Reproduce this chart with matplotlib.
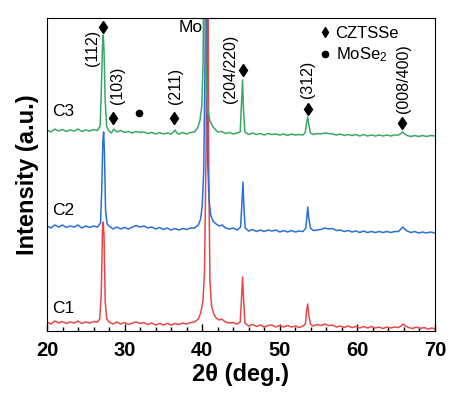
import matplotlib
matplotlib.use("Agg")
import matplotlib.pyplot as plt
from matplotlib.lines import Line2D
from matplotlib.ticker import MultipleLocator

plt.rcParams['font.family'] = ['Liberation Sans', 'DejaVu Sans']
plt.rcParams['mathtext.fontset'] = 'custom'
plt.rcParams['mathtext.rm'] = 'Liberation Sans'
plt.rcParams['mathtext.it'] = 'Liberation Sans:italic'

# 2theta / intensity (offset, a.u.)
c1_x = [20, 20.5, 21, 21.5, 22, 22.5, 23, 23.5, 24, 24.5, 25, 25.5, 26, 26.5, 26.8, 27.0, 27.15, 27.25, 27.35, 27.5, 27.7,
        28, 28.5, 29, 29.5, 30, 30.5, 31, 31.5, 32, 32.5, 33, 33.5, 34, 34.5, 35, 35.5, 36, 36.5, 37, 37.5, 38, 38.5,
        39, 39.5, 39.8, 40.1, 40.3, 40.5, 40.62, 40.72, 40.85, 41.0, 41.2, 41.5, 41.8, 42.2, 42.5, 43, 43.5, 44, 44.5, 44.9,
        45.05, 45.2, 45.35, 45.5, 46, 46.5, 47, 47.5, 48, 48.5, 49, 49.5, 50, 50.5, 51, 51.5, 52, 52.5, 53,
        53.3, 53.45, 53.6, 53.75, 53.95, 54.3, 54.8, 55.3, 55.8, 56.3, 56.8, 57.3, 57.8, 58.3, 58.8, 59.3, 59.8,
        60.3, 60.8, 61.3, 61.8, 62.3, 62.8, 63.3, 63.8, 64.3, 64.8, 65.3, 65.6, 65.9, 66.2, 66.6, 67.1, 67.6,
        68.1, 68.6, 69.1, 69.6, 70]
c1_y = [9, 7, 10, 8, 9.5, 7.5, 9, 8, 10, 7.5, 9, 8, 9.5, 9, 12, 40, 100, 109, 95, 30, 12,
        9, 7, 9, 7, 8.5, 6.5, 8, 9, 7.5, 8.5, 6.5, 8, 6, 7.5, 6, 7.5, 6, 7.5, 6.5, 8, 7, 8.5,
        9, 12, 18, 30, 60, 180, 420, 420, 160, 50, 25, 17, 13, 11, 12, 9, 8, 8.5, 7, 9,
        30, 54, 30, 8, 5, 6.5, 4.5, 6, 4, 5.5, 6, 4, 5.5, 4, 5.5, 4, 5, 3.5, 5,
        7, 20, 27, 15, 7, 5, 6.5, 5.5, 7, 5.5, 6, 4, 5, 3.5, 5, 3.5, 4.5,
        3, 4.5, 3, 4.5, 3, 4, 2.5, 4, 3, 4, 3.5, 5, 7, 5, 3.5, 2.5, 4,
        2.5, 3.5, 2, 3, 2]

c2_x = [20, 20.5, 21, 21.5, 22, 22.5, 23, 23.5, 24, 24.5, 25, 25.5, 26, 26.5, 26.9, 27.05, 27.2, 27.3, 27.4, 27.55, 27.75,
        28, 28.5, 29, 29.5, 30, 30.5, 31, 31.5, 32, 32.5, 33, 33.5, 34, 34.5, 35, 35.5, 36, 36.5, 37, 37.5, 38, 38.5,
        39, 39.5, 39.8, 40.0, 40.2, 40.38, 40.47, 40.56, 40.7, 40.9, 41.1, 41.4, 41.8, 42.2, 42.6, 43, 43.5, 44, 44.5, 44.95,
        45.1, 45.25, 45.4, 45.55, 46, 46.5, 47, 47.5, 48, 48.5, 49, 49.5, 50, 50.5, 51, 51.5, 52, 52.5, 53,
        53.35, 53.5, 53.6, 53.75, 53.95, 54.3, 54.8, 55.3, 55.8, 56.3, 56.8, 57.3, 57.8, 58.3, 58.8, 59.3, 59.8,
        60.3, 60.8, 61.3, 61.8, 62.3, 62.8, 63.3, 63.8, 64.3, 64.8, 65.3, 65.6, 65.85, 66.1, 66.4, 66.9, 67.4,
        67.9, 68.4, 68.9, 69.4, 70]
c2_y = [105, 103, 106, 104, 106, 103.5, 105, 104, 106, 103, 105, 103.5, 105, 104, 108, 140, 190, 199, 180, 120, 107,
        105, 102, 104, 102, 103.5, 102, 104, 105.5, 104, 105, 103, 104, 102, 103.5, 101.5, 103, 101, 102.5, 101, 102.5, 101.5, 103,
        103, 106, 112, 125, 160, 280, 420, 420, 170, 130, 116, 110, 107, 105, 106, 103, 102, 103, 101, 104,
        125, 149, 120, 103, 100, 101.5, 99.5, 101, 99.5, 101, 100, 101, 99, 100.5, 99, 100.5, 99, 100, 99.5,
        103, 115, 124, 112, 103, 100.5, 101, 101.5, 103, 102, 102.5, 100.5, 101, 99.5, 100.5, 99, 100,
        98.5, 100, 98.5, 99.5, 98.5, 99.5, 98.5, 99.5, 98.5, 99.5, 99.5, 102, 104, 102, 100, 98.5, 99.5,
        98, 99, 98, 99, 98]

c3_x = [20, 20.5, 21, 21.5, 22, 22.5, 23, 23.5, 24, 24.5, 25, 25.5, 26, 26.5, 26.85, 27.0, 27.15, 27.25, 27.35, 27.5, 27.7,
        28, 28.3, 28.6, 29, 29.5, 30, 30.5, 31, 31.5, 32, 32.5, 33, 33.5, 34, 34.5, 35, 35.5, 36, 36.3, 36.5, 36.8,
        37, 37.5, 38, 38.5, 39, 39.4, 39.7, 39.95, 40.12, 40.24, 40.33, 40.45, 40.7, 41.0, 41.4, 42, 42.5, 43, 43.5, 44, 44.5,
        44.9, 45.05, 45.2, 45.33, 45.5, 46, 46.5, 47, 47.5, 48, 48.5, 49, 49.5, 50, 50.5, 51, 51.5, 52, 52.5, 53,
        53.3, 53.45, 53.6, 53.75, 53.95, 54.3, 54.8, 55.3, 55.8, 56.3, 56.8, 57.3, 57.8, 58.3, 58.8, 59.3, 59.8,
        60.3, 60.8, 61.3, 61.8, 62.3, 62.8, 63.3, 63.8, 64.3, 64.8, 65.3, 65.6, 65.85, 66.1, 66.4, 66.9, 67.4,
        67.9, 68.4, 68.9, 69.4, 70]
c3_y = [201, 199, 202, 200, 201.5, 199.5, 201, 200, 202, 199.5, 201, 200, 201.5, 200.5, 205, 240, 285, 296, 280, 230, 204,
        200, 198, 202, 199, 200.5, 198.5, 199.5, 198, 199.5, 198.5, 199, 197.5, 198.5, 197, 198.5, 197, 198, 197, 199, 201, 197.5,
        197, 198.5, 197, 198.5, 199, 203, 210, 225, 270, 420, 420, 270, 222, 210, 204, 199, 199.5, 197.5, 198.5, 197, 198,
        199, 225, 251, 220, 199, 196.5, 198, 196.5, 197.5, 196, 197.5, 196.5, 197, 196, 197, 195.5, 197, 196, 196.5, 196,
        199, 208, 214, 206, 198, 196.5, 197.5, 197, 198, 197.5, 197, 196, 197, 195.5, 196.5, 195.5, 196.5,
        195, 196.5, 195, 196, 195, 196, 195, 196, 195, 196, 196, 197.5, 199, 197, 195.5, 194.5, 195.5,
        194.5, 195.5, 194.5, 195.5, 195]

# reflection markers
czts_x = [27.2, 28.55, 36.4, 45.3, 53.6, 65.8]
czts_y = [304, 213, 213, 261, 222, 208]
mose2_x = [31.9]
mose2_y = [218]

hkl_labels = ['(112)', '(103)', '(211)', '(204/220)', '(312)', '(008/400)']
hkl_x = [25.9, 29.1, 36.5, 43.6, 53.55, 65.9]
hkl_y = [283, 246, 245, 262, 252, 252]

sample_labels = ['C1', 'C2', 'C3']
sample_y = [23, 121, 219]

fig = plt.figure(figsize=(4.67, 3.98), dpi=100)
ax = fig.add_axes([0.1006, 0.1683, 0.8309, 0.7865])

ax.plot(c1_x, c1_y, color='#e8474a', lw=1.1)
ax.plot(c2_x, c2_y, color='#2b6fd8', lw=1.1)
ax.plot(c3_x, c3_y, color='#3aa864', lw=1.1)

ax.plot(czts_x, czts_y, 'kd', ms=6, ls='none')
ax.plot(mose2_x, mose2_y, 'ko', ms=4.5, ls='none')

for lab, x, y in zip(hkl_labels, hkl_x, hkl_y):
    ax.text(x, y, lab, rotation=90, ha='center', va='center', fontsize=11.5)

for lab, y in zip(sample_labels, sample_y):
    ax.text(20.6, y, lab, ha='left', va='center', fontsize=12.5)

ax.text(40.05, 303, 'Mo', ha='right', va='center', fontsize=12.5)

handles = [Line2D([], [], marker='d', color='k', ls='none', ms=5.5),
           Line2D([], [], marker='o', color='k', ls='none', ms=4.5)]
ax.legend(handles, ['CZTSSe', 'MoSe$_2$'], loc='upper left', bbox_to_anchor=(0.688, 0.995),
          frameon=False, fontsize=12, handlelength=0.5, handletextpad=0.4,
          labelspacing=0.25, borderaxespad=0)

ax.set_xlim(20, 70)
ax.set_ylim(0, 313)
ax.xaxis.set_major_locator(MultipleLocator(10))
ax.xaxis.set_minor_locator(MultipleLocator(2))
ax.tick_params(axis='x', which='both', direction='in', labelsize=14.5, pad=7)
ax.tick_params(axis='x', which='major', length=5, width=1)
ax.tick_params(axis='x', which='minor', length=3, width=1)
ax.set_yticks([])
for lab in ax.get_xticklabels():
    lab.set_fontweight('bold')

ax.set_xlabel('2θ (deg.)', fontsize=17, fontweight='bold', labelpad=2)
ax.set_ylabel('Intensity (a.u.)', fontsize=17, fontweight='bold', labelpad=6)

fig.savefig('out.png', dpi=100)
